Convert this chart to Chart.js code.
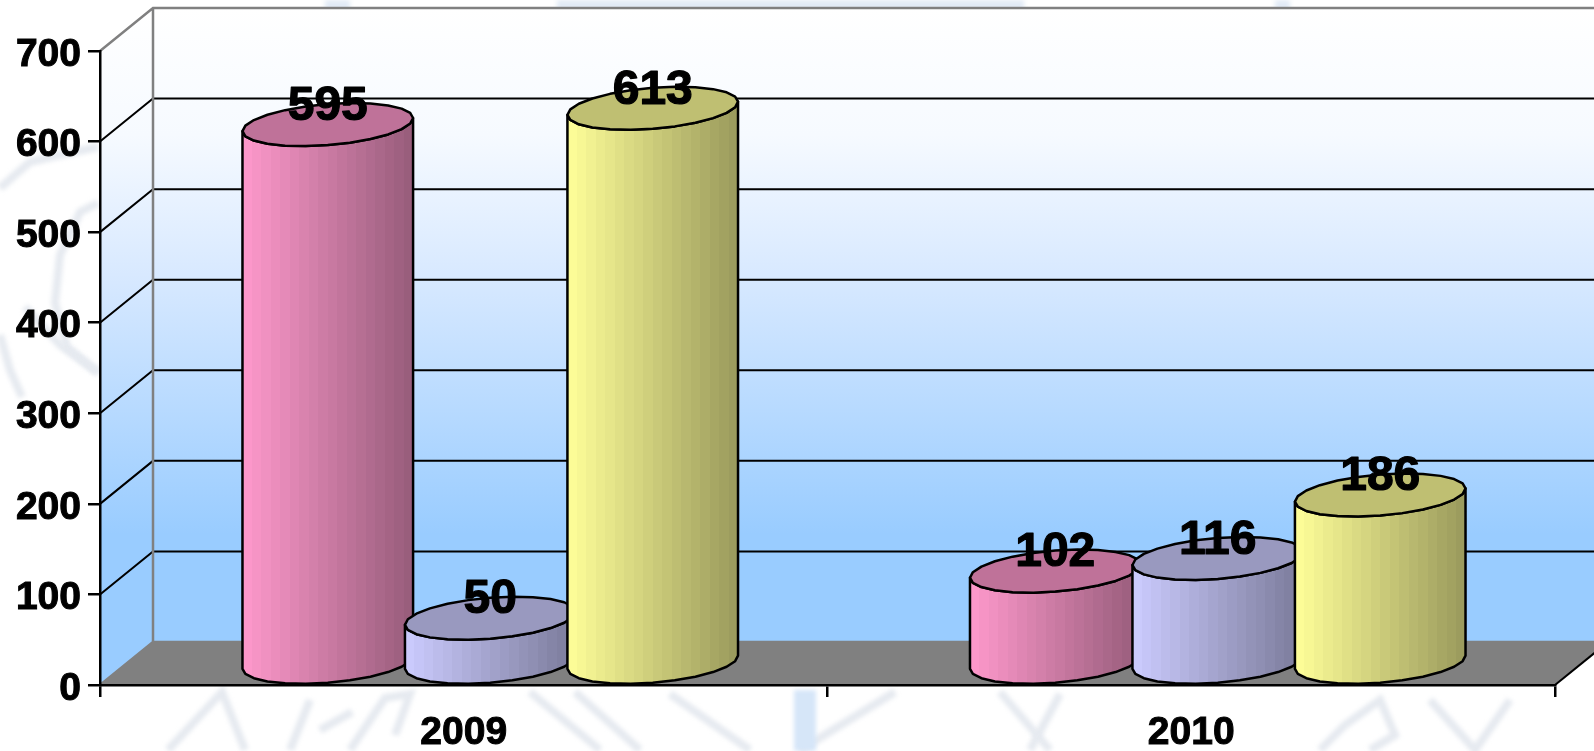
<!DOCTYPE html>
<html>
<head>
<meta charset="utf-8">
<title>2009 - 2010</title>
<script src="https://cdn.jsdelivr.net/npm/chart.js@4/dist/chart.umd.min.js"></script>
<style>
  html, body { margin: 0; padding: 0; background: #fff; overflow: hidden; }
  canvas { display: block; }
</style>
</head>
<body>
<canvas id="cylChart" width="1594" height="751"></canvas>
<script>
const years = ["2009", "2010"];
const pinkValues = [595, 102];
const purpleValues = [50, 116];
const yellowValues = [613, 186];
const yTicks = [0, 100, 200, 300, 400, 500, 600, 700];

// 3d look of the plot box
const DEPTH_X = 53;
const DEPTH_Y = 43;
const TILT = 6.6;
const FONT = '"Liberation Sans", Arial, sans-serif';

function bandGradient(ctx, x0, x1, light, dark) {
  const g = ctx.createLinearGradient(x0, 0, x1, 0);
  const bands = 18;
  for (let i = 0; i < bands; i++) {
    const t = (i + 0.5) / bands;
    const c = light.map((v, k) => Math.round(v + (dark[k] - v) * t));
    const col = `rgb(${c[0]},${c[1]},${c[2]})`;
    g.addColorStop(i / bands, col);
    g.addColorStop((i + 1) / bands, col);
  }
  return g;
}

function ellipsePoint(cx, cy, a, b, t) {
  return [cx + a * Math.cos(t), cy + b * Math.sin(t) - TILT * Math.cos(t)];
}

// pale seal that shows through behind the chart
const watermark = {
  id: "watermark",
  beforeDraw(chart) {
    const { ctx } = chart;
    const strokes = [
      [[0, 188], [30, 162], [60, 155], [98, 147]],
      [[98, 203], [80, 212], [60, 255], [55, 303], [67, 347], [98, 373]],
      [[25, 307], [60, 345], [98, 372]],
      [[0, 335], [10, 370], [22, 397]],
      [[168, 750], [222, 692], [245, 750]],
      [[290, 750], [310, 700]],
      [[320, 730], [352, 712]],
      [[350, 750], [385, 698], [410, 694], [395, 735]],
      [[530, 692], [600, 750]],
      [[575, 692], [640, 750]],
      [[670, 694], [750, 750]],
      [[895, 692], [800, 750]],
      [[1000, 692], [1050, 750]],
      [[1060, 694], [1030, 750]],
      [[1320, 750], [1345, 725], [1380, 700], [1395, 735], [1370, 750]],
      [[1430, 700], [1475, 750], [1510, 700]],
    ];
    ctx.save();
    ctx.filter = "blur(2px)";
    ctx.fillStyle = "#e2ebf6";
    ctx.fillRect(557, 0, 467, 10);
    ctx.fillRect(325, 0, 25, 10);
    ctx.fillRect(1275, 0, 15, 10);
    ctx.strokeStyle = "#e6eaf0";
    ctx.lineWidth = 8;
    strokes.forEach((line) => {
      ctx.beginPath();
      line.forEach((p, i) => (i === 0 ? ctx.moveTo(p[0], p[1]) : ctx.lineTo(p[0], p[1])));
      ctx.stroke();
    });
    ctx.strokeStyle = "#d6e6f8";
    ctx.lineWidth = 22;
    ctx.beginPath();
    ctx.moveTo(805, 690);
    ctx.lineTo(805, 751);
    ctx.stroke();
    ctx.restore();
  },
};

const walls = {
  id: "walls",
  beforeDraw(chart) {
    const { ctx, chartArea: area, scales } = chart;
    const y = scales.y;
    const zero = y.getPixelForValue(0);
    const top = y.getPixelForValue(700);

    const wallGrad = ctx.createLinearGradient(0, top - DEPTH_Y, 0, zero - DEPTH_Y);
    wallGrad.addColorStop(0, "#ffffff");
    wallGrad.addColorStop(0.2, "#f6faff");
    wallGrad.addColorStop(0.42, "#d8e9ff");
    wallGrad.addColorStop(0.83, "#99ccff");
    wallGrad.addColorStop(1, "#99ccff");

    ctx.save();
    ctx.fillStyle = wallGrad;
    ctx.fillRect(area.left + DEPTH_X, top - DEPTH_Y, 1600, zero - top);
    ctx.beginPath();
    ctx.moveTo(area.left, top);
    ctx.lineTo(area.left + DEPTH_X, top - DEPTH_Y);
    ctx.lineTo(area.left + DEPTH_X, zero - DEPTH_Y);
    ctx.lineTo(area.left, zero);
    ctx.closePath();
    ctx.fill();

    // floor
    ctx.fillStyle = "#808080";
    ctx.beginPath();
    ctx.moveTo(area.left, zero);
    ctx.lineTo(area.left + DEPTH_X, zero - DEPTH_Y);
    ctx.lineTo(area.right + DEPTH_X, zero - DEPTH_Y);
    ctx.lineTo(area.right, zero);
    ctx.closePath();
    ctx.fill();
    ctx.strokeStyle = "#000";
    ctx.lineWidth = 2;
    ctx.beginPath();
    ctx.moveTo(area.right, zero);
    ctx.lineTo(area.right + DEPTH_X, zero - DEPTH_Y);
    ctx.stroke();

    // grid lines on both walls
    yTicks.forEach((v) => {
      if (v === 0 || v === 700) return;
      const py = y.getPixelForValue(v);
      ctx.strokeStyle = "#000";
      ctx.lineWidth = 2;
      ctx.beginPath();
      ctx.moveTo(area.left, py);
      ctx.lineTo(area.left + DEPTH_X, py - DEPTH_Y);
      ctx.lineTo(1600, py - DEPTH_Y);
      ctx.stroke();
    });

    // gray frame
    ctx.strokeStyle = "#808080";
    ctx.lineWidth = 2.5;
    ctx.beginPath();
    ctx.moveTo(area.left, top);
    ctx.lineTo(area.left + DEPTH_X, top - DEPTH_Y);
    ctx.lineTo(1600, top - DEPTH_Y);
    ctx.moveTo(area.left + DEPTH_X, top - DEPTH_Y);
    ctx.lineTo(area.left + DEPTH_X, zero - DEPTH_Y);
    ctx.lineTo(1600, zero - DEPTH_Y);
    ctx.moveTo(area.left, zero);
    ctx.lineTo(area.left + DEPTH_X, zero - DEPTH_Y);
    ctx.stroke();
    ctx.restore();
  },
};

const cylinders = {
  id: "cylinders",
  afterDatasetsDraw(chart) {
    const { ctx } = chart;
    const shade = [
      { light: [255, 153, 204], dark: [150, 92, 122], top: "#bf7299" },
      { light: [204, 204, 255], dark: [122, 122, 153], top: "#9999bf" },
      { light: [255, 255, 153], dark: [153, 153, 92], top: "#bfbf72" },
    ];
    const segs = 24;

    ctx.save();
    chart.data.datasets.forEach((ds, di) => {
      chart.getDatasetMeta(di).data.forEach((bar) => {
        const a = bar.width / 2;
        const b = 20.5;
        const cx = bar.x + DEPTH_X / 2;
        const topY = bar.y - DEPTH_Y / 2;
        const baseY = bar.base - DEPTH_Y / 2;
        const s = shade[di];

        // side, going round the lower half of the base
        ctx.beginPath();
        for (let i = 0; i <= segs / 2; i++) {
          const p = ellipsePoint(cx, baseY, a, b, (Math.PI * 2 * i) / segs);
          if (i === 0) ctx.moveTo(p[0], p[1]);
          else ctx.lineTo(p[0], p[1]);
        }
        for (let i = segs / 2; i >= 0; i--) {
          const p = ellipsePoint(cx, topY, a, b, (Math.PI * 2 * i) / segs);
          ctx.lineTo(p[0], p[1]);
        }
        ctx.closePath();
        ctx.fillStyle = bandGradient(ctx, cx - a, cx + a, s.light, s.dark);
        ctx.fill();
        ctx.strokeStyle = "#000";
        ctx.lineWidth = 2.5;
        ctx.lineJoin = "round";
        ctx.stroke();

        // top
        ctx.beginPath();
        for (let i = 0; i < segs; i++) {
          const p = ellipsePoint(cx, topY, a, b, (Math.PI * 2 * i) / segs);
          if (i === 0) ctx.moveTo(p[0], p[1]);
          else ctx.lineTo(p[0], p[1]);
        }
        ctx.closePath();
        ctx.fillStyle = s.top;
        ctx.fill();
        ctx.stroke();
      });
    });

    // value labels sit on top of everything
    ctx.fillStyle = "#000";
    ctx.strokeStyle = "#000";
    ctx.lineWidth = 1.2;
    ctx.font = `bold 48px ${FONT}`;
    ctx.textAlign = "center";
    ctx.textBaseline = "middle";
    chart.data.datasets.forEach((ds, di) => {
      chart.getDatasetMeta(di).data.forEach((bar, i) => {
        const tx = bar.x + DEPTH_X / 2;
        const ty = bar.y - DEPTH_Y / 2 - 18;
        ctx.fillText(String(ds.data[i]), tx, ty);
        ctx.strokeText(String(ds.data[i]), tx, ty);
      });
    });
    ctx.restore();
  },
};

new Chart(document.getElementById("cylChart"), {
  type: "bar",
  data: {
    labels: years,
    datasets: [
      { label: "a", data: pinkValues, backgroundColor: "transparent" },
      { label: "b", data: purpleValues, backgroundColor: "transparent" },
      { label: "c", data: yellowValues, backgroundColor: "transparent" },
    ],
  },
  options: {
    responsive: false,
    animation: false,
    devicePixelRatio: 1,
    layout: { padding: { top: 51, right: 39, left: 0, bottom: 0 } },
    plugins: { legend: { display: false }, tooltip: { enabled: false } },
    datasets: { bar: { categoryPercentage: 0.67, barPercentage: 1.05 } },
    scales: {
      x: {
        afterFit(scale) {
          scale.height = 66;
        },
        grid: { drawOnChartArea: false, color: "#000", lineWidth: 2.5, tickLength: 12 },
        border: { color: "#000", width: 2.5 },
        ticks: {
          color: "#000",
          padding: 13,
          textStrokeColor: "#000",
          textStrokeWidth: 1,
          font: { family: FONT, size: 39, weight: "bold" },
          maxRotation: 0,
        },
      },
      y: {
        min: 0,
        max: 700,
        afterFit(scale) {
          scale.width = 100;
        },
        afterBuildTicks(scale) {
          scale.ticks = yTicks.map((v) => ({ value: v }));
        },
        afterUpdate(scale) {
          // labels sit a little lower than the library puts them
          const drawLabels = scale.drawLabels.bind(scale);
          scale.drawLabels = (area) => {
            scale.ctx.save();
            scale.ctx.translate(0, 2);
            drawLabels(area);
            scale.ctx.restore();
          };
        },
        grid: { drawOnChartArea: false, color: "#000", lineWidth: 2.5, tickLength: 12 },
        border: { color: "#000", width: 2.5 },
        ticks: {
          color: "#000",
          padding: 7,
          textStrokeColor: "#000",
          textStrokeWidth: 1,
          font: { family: FONT, size: 39, weight: "bold" },
        },
      },
    },
  },
  plugins: [watermark, walls, cylinders],
});
</script>
</body>
</html>
